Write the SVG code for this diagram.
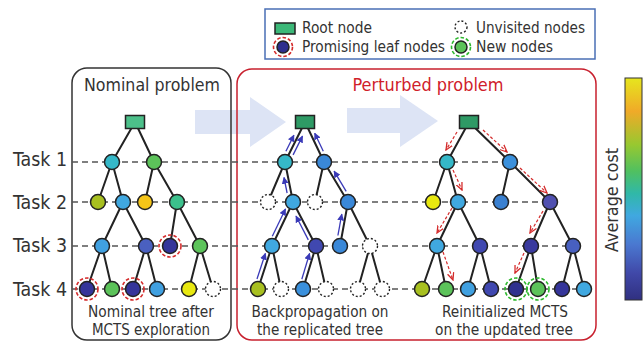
<svg xmlns="http://www.w3.org/2000/svg" width="644" height="341" viewBox="0 0 644 341">
<style>
.t{font-family:"DejaVu Sans Condensed","DejaVu Sans","Liberation Sans",sans-serif;fill:#333}
.lg{font-size:15px}
.lb{font-size:15.5px;text-anchor:middle}
.task{font-size:20px}
.e{stroke:#222;stroke-width:2;fill:none}
.n{stroke:#222;stroke-width:1.5}
.u{fill:#fff;stroke:#222;stroke-width:1.4;stroke-dasharray:2 2}
.hl{stroke:#555;stroke-width:1.3;stroke-dasharray:6 4;fill:none}
.rr{fill:none;stroke:#d42a2a;stroke-width:1.6;stroke-dasharray:3.5 2}
.gr{fill:none;stroke:#2cb82c;stroke-width:1.6;stroke-dasharray:3.5 2}
.bp{stroke:#3a3ab8;stroke-width:1.3;fill:none;marker-end:url(#bh)}
.rd{stroke:#d42a2a;stroke-width:1.2;stroke-dasharray:3 2;fill:none;marker-end:url(#rh)}
.big{fill:#dde4f5}
</style>
<defs>
<marker id="bh" viewBox="0 0 10 10" refX="9" refY="5" markerWidth="7" markerHeight="7" markerUnits="userSpaceOnUse" orient="auto">
<path d="M0,0 L10,5 L0,10 Z" fill="#3a3ab8"/>
</marker>
<marker id="rh" viewBox="0 0 10 10" refX="9" refY="5" markerWidth="8" markerHeight="8" markerUnits="userSpaceOnUse" orient="auto">
<path d="M0,1 L9,5 L0,9" fill="none" stroke="#d42a2a" stroke-width="1.6"/>
</marker>
<linearGradient id="cb" x1="0" y1="0" x2="0" y2="1">
<stop offset="0" stop-color="#e6e61e"/>
<stop offset="0.15" stop-color="#f0aa28"/>
<stop offset="0.3" stop-color="#98c830"/>
<stop offset="0.42" stop-color="#50c060"/>
<stop offset="0.52" stop-color="#30b8a8"/>
<stop offset="0.62" stop-color="#40a8e0"/>
<stop offset="0.75" stop-color="#4a78d0"/>
<stop offset="0.88" stop-color="#4048a8"/>
<stop offset="1" stop-color="#303080"/>
</linearGradient>
</defs>
<rect width="644" height="341" fill="#fff"/>

<!-- big arrows -->
<g id="big-arrows">
<polygon class="big" points="195,110 250,110 250,97 286,122 250,147 250,134 195,134"/>
<polygon class="big" points="347,108 400,108 400,95 438,121 400,147 400,133 347,133"/>
</g>

<!-- panels -->
<g id="panel-nominal">
<rect x="72" y="68" width="159" height="272" rx="15" fill="none" stroke="#333" stroke-width="1.5"/>
<text class="t" x="152" y="91" font-size="18" text-anchor="middle" textLength="136" lengthAdjust="spacingAndGlyphs">Nominal problem</text>
</g>
<g id="panel-perturbed">
<rect x="237" y="69" width="359" height="271" rx="15" fill="none" stroke="#c8202e" stroke-width="1.5"/>
<text class="t" x="428" y="91" font-size="18" text-anchor="middle" fill="#d0202a" style="fill:#d0202a" textLength="151" lengthAdjust="spacingAndGlyphs">Perturbed problem</text>
</g>

<!-- legend -->
<g id="legend">
<rect x="265" y="9" width="330" height="50" fill="#fff" stroke="#4a6fb5" stroke-width="1.5"/>
<rect x="275" y="23" width="20" height="11" fill="#3cb878" class="n"/>
<text class="t lg" x="302" y="33" textLength="70" lengthAdjust="spacingAndGlyphs">Root node</text>
<circle cx="283" cy="47" r="9.5" class="rr"/>
<circle cx="283" cy="47" r="6" fill="#2e2e8e" class="n"/>
<text class="t lg" x="302" y="52" textLength="143" lengthAdjust="spacingAndGlyphs">Promising leaf nodes</text>
<circle cx="461" cy="27" r="6" class="u"/>
<text class="t lg" x="476" y="33" textLength="109" lengthAdjust="spacingAndGlyphs">Unvisited nodes</text>
<circle cx="461" cy="47" r="9.5" class="gr"/>
<circle cx="461" cy="47" r="6" fill="#5cc35a" class="n"/>
<text class="t lg" x="476" y="52" textLength="77" lengthAdjust="spacingAndGlyphs">New nodes</text>
</g>

<!-- task labels and lines -->
<g id="tasks">
<text class="t task" x="13" y="166" textLength="54" lengthAdjust="spacingAndGlyphs">Task 1</text>
<text class="t task" x="13" y="209" textLength="54" lengthAdjust="spacingAndGlyphs">Task 2</text>
<text class="t task" x="13" y="252" textLength="54" lengthAdjust="spacingAndGlyphs">Task 3</text>
<text class="t task" x="13" y="296" textLength="54" lengthAdjust="spacingAndGlyphs">Task 4</text>
<line class="hl" x1="72" y1="162" x2="510" y2="162"/>
<line class="hl" x1="72" y1="202" x2="550" y2="202"/>
<line class="hl" x1="72" y1="246" x2="573" y2="246"/>
<line class="hl" x1="72" y1="289" x2="584" y2="289"/>
</g>

<!-- connectors -->
<g id="connectors">
<!-- left tree -->
<path class="e" d="M135,122 L112,162 M135,122 L154,162 M112,162 L98,202 M112,162 L123,202 M154,162 L145,202 M154,162 L177,202 M123,202 L102,246 M123,202 L146,246 M177,202 L170,246 M177,202 L200,246 M102,246 L87,289 M102,246 L112,289 M146,246 L133,289 M146,246 L157,289 M200,246 L189,289 M200,246 L213,289"/>
<!-- middle tree -->
<path class="e" d="M305,122 L285,162 M305,122 L324,162 M285,162 L268,202 M285,162 L293,202 M324,162 L315,202 M324,162 L348,202 M293,202 L272,246 M293,202 L316,246 M348,202 L340,246 M348,202 L370,246 M272,246 L258,289 M272,246 L281,289 M316,246 L303,289 M316,246 L326,289 M370,246 L358,289 M370,246 L382,289"/>
<!-- right tree -->
<path class="e" d="M469,122 L447,162 M469,122 L510,162 M447,162 L433,202 M447,162 L458,202 M510,162 L501,202 M510,162 L550,202 M458,202 L437,246 M458,202 L480,246 M550,202 L531,246 M550,202 L573,246 M437,246 L422,289 M437,246 L446,289 M480,246 L468,289 M480,246 L491,289 M531,246 L516,289 M531,246 L538,289 M573,246 L562,289 M573,246 L584,289"/>
<!-- backpropagation arrows -->
<line class="bp" x1="257" y1="279" x2="265.4" y2="253.4"/>
<line class="bp" x1="301.8" y1="279.2" x2="309.6" y2="253.4"/>
<line class="bp" x1="272.3" y1="236.2" x2="285.5" y2="209"/>
<line class="bp" x1="308.3" y1="239.9" x2="296" y2="216"/>
<line class="bp" x1="337.9" y1="235.5" x2="341.8" y2="214.1"/>
<line class="bp" x1="287.1" y1="193" x2="284" y2="177.5"/>
<line class="bp" x1="346.2" y1="191.3" x2="334.1" y2="171.1"/>
<line class="bp" x1="285.9" y1="151.3" x2="293.9" y2="135.2"/>
<line class="bp" x1="293.1" y1="154.9" x2="302.5" y2="136.1"/>
<line class="bp" x1="323.3" y1="151.3" x2="314.7" y2="133.2"/>
<!-- reinitialized MCTS arrows -->
<line class="rd" x1="457" y1="132" x2="446" y2="150"/>
<line class="rd" x1="483" y1="130" x2="507" y2="152"/>
<line class="rd" x1="453" y1="170" x2="462" y2="190"/>
<line class="rd" x1="520" y1="168" x2="547" y2="193"/>
<line class="rd" x1="452" y1="208" x2="437" y2="233"/>
<line class="rd" x1="443" y1="252" x2="453" y2="280"/>
<line class="rd" x1="543" y1="211" x2="530" y2="233"/>
<line class="rd" x1="524" y1="253" x2="515" y2="273"/>
</g>

<!-- left tree nodes -->
<g id="nom-root"><rect x="125.5" y="115.5" width="19" height="13" fill="#4cc08a" class="n"/></g>
<g id="nom-1a"><circle cx="112" cy="162" r="7.5" fill="#35b8c8" class="n"/></g>
<g id="nom-1b"><circle cx="154" cy="162" r="7.5" fill="#5cc35a" class="n"/></g>
<g id="nom-2a"><circle cx="98" cy="202" r="7.5" fill="#a8c020" class="n"/></g>
<g id="nom-2b"><circle cx="123" cy="202" r="7.5" fill="#40a8e0" class="n"/></g>
<g id="nom-2c"><circle cx="145" cy="202" r="7.5" fill="#f5c518" class="n"/></g>
<g id="nom-2d"><circle cx="177" cy="202" r="7.5" fill="#3cc08c" class="n"/></g>
<g id="nom-3a"><circle cx="102" cy="246" r="7.5" fill="#40a0e0" class="n"/></g>
<g id="nom-3b"><circle cx="146" cy="246" r="7.5" fill="#4a60c0" class="n"/></g>
<g id="nom-3c"><circle cx="170" cy="246" r="11" class="rr"/><circle cx="170" cy="246" r="7.5" fill="#35359a" class="n"/></g>
<g id="nom-3d"><circle cx="200" cy="246" r="7.5" fill="#5cc35a" class="n"/></g>
<g id="nom-4a"><circle cx="87" cy="289" r="11" class="rr"/><circle cx="87" cy="289" r="7.5" fill="#35359a" class="n"/></g>
<g id="nom-4b"><circle cx="112" cy="289" r="7.5" fill="#5cc35a" class="n"/></g>
<g id="nom-4c"><circle cx="133" cy="289" r="11" class="rr"/><circle cx="133" cy="289" r="7.5" fill="#35359a" class="n"/></g>
<g id="nom-4d"><circle cx="157" cy="289" r="7.5" fill="#40a0e0" class="n"/></g>
<g id="nom-4e"><circle cx="189" cy="289" r="7.5" fill="#e8e810" class="n"/></g>
<g id="nom-4f"><circle cx="213" cy="289" r="7.5" class="u"/></g>

<!-- middle tree nodes -->
<g id="bp-root"><rect x="295.5" y="115.5" width="19" height="13" fill="#2e9a65" class="n"/></g>
<g id="bp-1a"><circle cx="285" cy="162" r="7.5" fill="#35b8c8" class="n"/></g>
<g id="bp-1b"><circle cx="324" cy="162" r="7.5" fill="#3a88d8" class="n"/></g>
<g id="bp-2a"><circle cx="268" cy="202" r="7.5" class="u"/></g>
<g id="bp-2b"><circle cx="293" cy="202" r="7.5" fill="#40a8e0" class="n"/></g>
<g id="bp-2c"><circle cx="315" cy="202" r="7.5" class="u"/></g>
<g id="bp-2d"><circle cx="348" cy="202" r="7.5" fill="#3a88d8" class="n"/></g>
<g id="bp-3a"><circle cx="272" cy="246" r="7.5" fill="#40a8e0" class="n"/></g>
<g id="bp-3b"><circle cx="316" cy="246" r="7.5" fill="#4048b0" class="n"/></g>
<g id="bp-3c"><circle cx="340" cy="246" r="7.5" fill="#3a88d8" class="n"/></g>
<g id="bp-3d"><circle cx="370" cy="246" r="7.5" class="u"/></g>
<g id="bp-4a"><circle cx="258" cy="289" r="7.5" fill="#a8c020" class="n"/></g>
<g id="bp-4b"><circle cx="281" cy="289" r="7.5" class="u"/></g>
<g id="bp-4c"><circle cx="303" cy="289" r="7.5" fill="#3a90dc" class="n"/></g>
<g id="bp-4d"><circle cx="326" cy="289" r="7.5" class="u"/></g>
<g id="bp-4e"><circle cx="358" cy="289" r="7.5" class="u"/></g>
<g id="bp-4f"><circle cx="382" cy="289" r="7.5" class="u"/></g>

<!-- right tree nodes -->
<g id="re-root"><rect x="459.5" y="115.5" width="19" height="13" fill="#2e9a65" class="n"/></g>
<g id="re-1a"><circle cx="447" cy="162" r="7.5" fill="#35b8c8" class="n"/></g>
<g id="re-1b"><circle cx="510" cy="162" r="7.5" fill="#3a90dc" class="n"/></g>
<g id="re-2a"><circle cx="433" cy="202" r="7.5" fill="#e8e810" class="n"/></g>
<g id="re-2b"><circle cx="458" cy="202" r="7.5" fill="#40a8e0" class="n"/></g>
<g id="re-2c"><circle cx="501" cy="202" r="7.5" fill="#3a80d0" class="n"/></g>
<g id="re-2d"><circle cx="550" cy="202" r="7.5" fill="#5050b0" class="n"/></g>
<g id="re-3a"><circle cx="437" cy="246" r="7.5" fill="#40a8e0" class="n"/></g>
<g id="re-3b"><circle cx="480" cy="246" r="7.5" fill="#4048b0" class="n"/></g>
<g id="re-3c"><circle cx="531" cy="246" r="7.5" fill="#3a3a9e" class="n"/></g>
<g id="re-3d"><circle cx="573" cy="246" r="7.5" fill="#4860c0" class="n"/></g>
<g id="re-4a"><circle cx="422" cy="289" r="7.5" fill="#a8c020" class="n"/></g>
<g id="re-4b"><circle cx="446" cy="289" r="7.5" fill="#5cc35a" class="n"/></g>
<g id="re-4c"><circle cx="468" cy="289" r="7.5" fill="#40a0e0" class="n"/></g>
<g id="re-4d"><circle cx="491" cy="289" r="7.5" fill="#4048b0" class="n"/></g>
<g id="re-4e"><circle cx="516" cy="289" r="11" class="gr"/><circle cx="516" cy="289" r="7.5" fill="#30308e" class="n"/></g>
<g id="re-4f"><circle cx="538" cy="289" r="11" class="gr"/><circle cx="538" cy="289" r="7.5" fill="#5cc35a" class="n"/></g>
<g id="re-4g"><circle cx="562" cy="289" r="7.5" fill="#35359a" class="n"/></g>
<g id="re-4h"><circle cx="584" cy="289" r="7.5" fill="#40a8e0" class="n"/></g>

<!-- captions -->
<g id="captions">
<text class="t lb" x="151" y="317" textLength="126" lengthAdjust="spacingAndGlyphs">Nominal tree after</text>
<text class="t lb" x="151" y="335" textLength="118" lengthAdjust="spacingAndGlyphs">MCTS exploration</text>
<text class="t lb" x="320" y="317" textLength="137" lengthAdjust="spacingAndGlyphs">Backpropagation on</text>
<text class="t lb" x="320" y="335" textLength="126" lengthAdjust="spacingAndGlyphs">the replicated tree</text>
<text class="t lb" x="505" y="317" textLength="126" lengthAdjust="spacingAndGlyphs">Reinitialized MCTS</text>
<text class="t lb" x="504" y="335" textLength="138" lengthAdjust="spacingAndGlyphs">on the updated tree</text>
</g>

<!-- colorbar -->
<g id="colorbar">
<rect x="625" y="78" width="17" height="222" fill="url(#cb)" stroke="#333" stroke-width="1"/>
<text class="t" x="0" y="0" font-size="17" text-anchor="middle" transform="translate(618,200) rotate(-90)" textLength="104" lengthAdjust="spacingAndGlyphs">Average cost</text>
</g>
</svg>
